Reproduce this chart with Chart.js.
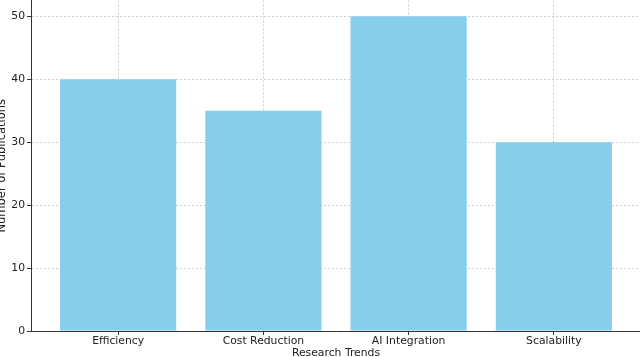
<!DOCTYPE html>
<html>
<head>
<meta charset="utf-8">
<script src="https://cdn.jsdelivr.net/npm/chart.js@4/dist/chart.umd.min.js"></script>
<style>
  html, body { margin: 0; padding: 0; background: #fff; overflow: hidden; }
  #wrap { position: relative; width: 640px; height: 357px; overflow: hidden; }
  #chart { position: absolute; left: -10px; top: -8px; }
</style>
</head>
<body>
<div id="wrap"><canvas id="chart" width="660" height="373"></canvas></div>
<script>
// data
const categories = ['Efficiency', 'Cost Reduction', 'AI Integration', 'Scalability']
const publications = [40, 35, 50, 30]
const yTicks = [0, 10, 20, 30, 40, 50]

const textColor = '#222'
const gridColor = 'rgba(185,185,185,0.7)'
const font = { family: 'DejaVu Sans', size: 10.8 }

const points = publications.map((v, i) => ({ x: i, y: v }))

new Chart(document.getElementById('chart'), {
  type: 'bar',
  data: {
    datasets: [{
      label: 'Number of Publications',
      data: points,
      backgroundColor: '#87CEEB',
      borderWidth: 0,
      barPercentage: 0.8,
      categoryPercentage: 1.0
    }]
  },
  options: {
    responsive: false,
    animation: false,
    layout: { padding: { left: 0, right: 9, top: 0, bottom: 0 } },
    plugins: { legend: { display: false }, tooltip: { enabled: false } },
    scales: {
      x: {
        type: 'linear',
        min: -0.6,
        max: 3.6,
        offset: false,
        z: 1,
        afterFit: s => { s.height = 34 },
        ticks: {
          stepSize: 1,
          color: textColor,
          font: font,
          padding: 0,
          maxRotation: 0,
          autoSkip: false,
          callback: v => Number.isInteger(v) ? categories[v] : null
        },
        grid: { offset: false, color: gridColor, lineWidth: 1, tickLength: 4, tickColor: '#333' },
        border: { display: true, color: '#333', width: 1, dash: [2, 2] },
        title: {
          display: true, text: 'Research Trends', color: textColor, font: font,
          padding: { top: 0, bottom: 5 }
        }
      },
      y: {
        min: 0,
        max: 52.5,
        z: 1,
        afterFit: s => { s.width = 41 },
        ticks: {
          stepSize: 10,
          color: textColor,
          font: font,
          padding: 2,
          callback: v => yTicks.includes(v) ? v : null
        },
        grid: { color: gridColor, lineWidth: 1, tickLength: 4, tickColor: '#333' },
        border: { display: true, color: '#333', width: 1, dash: [2, 2] },
        title: {
          display: true, text: 'Number of Publications', color: textColor,
          font: { family: 'DejaVu Sans', size: 11.5 },
          padding: { top: 5, bottom: 0 }
        }
      }
    }
  }
})
</script>
</body>
</html>
